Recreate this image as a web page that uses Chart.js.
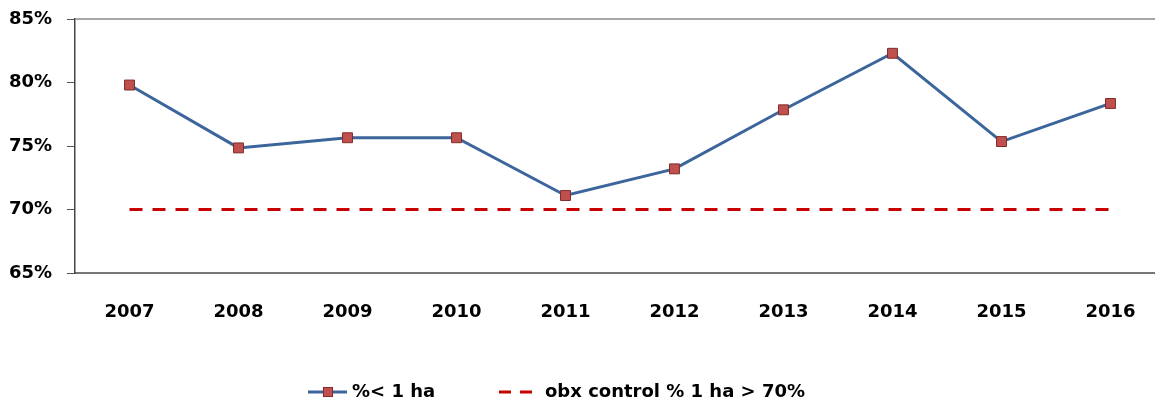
<!DOCTYPE html>
<html>
<head>
<meta charset="utf-8">
<script src="https://cdn.jsdelivr.net/npm/chart.js@4/dist/chart.umd.min.js"></script>
<style>
html,body{margin:0;padding:0;background:#fff;overflow:hidden;width:1155px;height:403px;}
#wrap{width:1173px;height:403px;position:absolute;left:0;top:0;}
#c{width:1173px;height:403px;}
</style>
</head>
<body>
<div id="wrap"><canvas id="c" width="1173" height="403"></canvas></div>
<script>
const categories = ["2007","2008","2009","2010","2011","2012","2013","2014","2015","2016"];
const shareUnder1ha = [79.8, 74.85, 75.65, 75.65, 71.1, 73.2, 77.85, 82.3, 75.35, 78.35];
const controlLine = [70, 70, 70, 70, 70, 70, 70, 70, 70, 70];
const yTicks = [65, 70, 75, 80, 85];
const seriesLabels = ["%< 1 ha", "obx control % 1 ha > 70%"];

const FONT = "DejaVu Sans";
const LINE_BLUE = "#3b659b";
const MARK_FILL = "#c0504d";
const MARK_EDGE = "#7e2b29";
const DASH_RED = "#c80000";

const legendPlugin = {
  id: 'customLegend',
  afterDraw(chart) {
    const ctx = chart.ctx;
    const y = 392;
    ctx.save();
    ctx.strokeStyle = LINE_BLUE; ctx.lineWidth = 3; ctx.setLineDash([]);
    ctx.beginPath(); ctx.moveTo(308, y); ctx.lineTo(347, y); ctx.stroke();
    ctx.fillStyle = MARK_FILL; ctx.strokeStyle = MARK_EDGE; ctx.lineWidth = 1;
    ctx.fillRect(323, y - 5, 10, 10); ctx.strokeRect(323.5, y - 4.5, 9, 9);
    ctx.fillStyle = "#000"; ctx.font = "bold 18px '" + FONT + "'";
    ctx.textBaseline = "middle"; ctx.textAlign = "left";
    ctx.fillText(chart.data.datasets[0].label, 352, y);
    ctx.strokeStyle = DASH_RED; ctx.lineWidth = 3; ctx.setLineDash([12, 9]);
    ctx.beginPath(); ctx.moveTo(499, y); ctx.lineTo(532, y); ctx.stroke();
    ctx.setLineDash([]);
    ctx.fillText(chart.data.datasets[1].label, 545, y);
    ctx.restore();
  }
};

const frameTop = {
  id: 'frameTop',
  beforeDatasetsDraw(chart) {
    const a = chart.chartArea, ctx = chart.ctx;
    ctx.save();
    ctx.strokeStyle = "#8a8a8a"; ctx.lineWidth = 1.5;
    ctx.beginPath(); ctx.moveTo(a.left, a.top); ctx.lineTo(a.right, a.top); ctx.stroke();
    ctx.restore();
  }
};

new Chart(document.getElementById('c'), {
  type: 'line',
  data: {
    labels: categories,
    datasets: [
      {
        label: seriesLabels[0],
        data: shareUnder1ha,
        borderColor: LINE_BLUE,
        borderWidth: 3,
        pointStyle: 'rect',
        pointRadius: 7,
        pointBackgroundColor: MARK_FILL,
        pointBorderColor: MARK_EDGE,
        pointBorderWidth: 1,
        tension: 0,
        order: 1
      },
      {
        label: seriesLabels[1],
        data: controlLine,
        borderColor: DASH_RED,
        borderWidth: 3,
        borderDash: [13, 10],
        pointRadius: 0,
        tension: 0,
        order: 2
      }
    ]
  },
  options: {
    responsive: false,
    animation: false,
    layout: { padding: { top: 19, left: 0, right: 0, bottom: 0 } },
    plugins: { legend: { display: false }, tooltip: { enabled: false } },
    scales: {
      x: {
        offset: true,
        grid: { display: false },
        border: { display: true, color: "#777", width: 2 },
        ticks: { color: "#000", font: { family: FONT, size: 18, weight: 'bold' }, padding: 21, maxRotation: 0 },
        afterFit(s) { s.height = 130; }
      },
      y: {
        min: 65, max: 85,
        afterBuildTicks(s) { s.ticks = yTicks.map(v => ({ value: v })); },
        grid: { drawOnChartArea: false, drawTicks: true, tickLength: 8, color: "#555", lineWidth: 1 },
        border: { display: true, color: "#444", width: 1.5 },
        ticks: { color: "#000", font: { family: FONT, size: 18, weight: 'bold' }, padding: 15,
                 callback: v => v + "%" },
        afterFit(s) { s.width = 75; s.paddingTop = 0; s.paddingBottom = 0; }
      }
    }
  },
  plugins: [frameTop, legendPlugin]
});
</script>
</body>
</html>
